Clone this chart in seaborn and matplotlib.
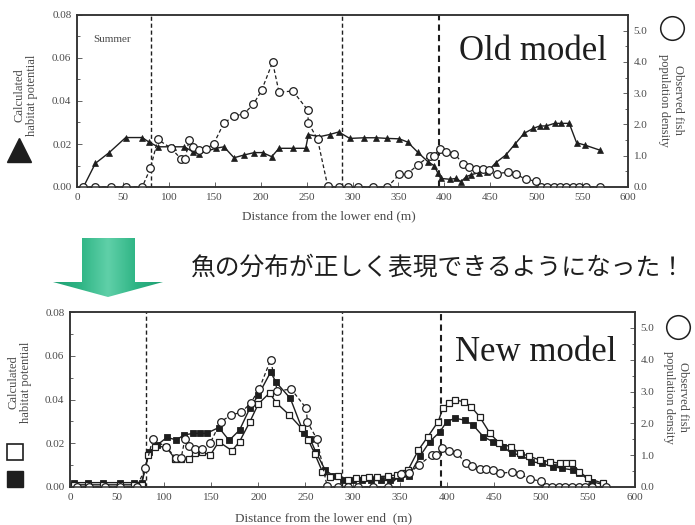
"""Habitat potential vs observed fish density: old model / new model comparison."""

import matplotlib

matplotlib.use("Agg")

import matplotlib.pyplot as plt
import numpy as np
import seaborn as sns
from matplotlib.patches import Polygon
from matplotlib.ticker import FormatStrFormatter, MultipleLocator

# --- data -------------------------------------------------------------------
# section boundaries (m) drawn as dashed verticals
SECTION_BOUNDS = [81, 289, 394]

# old model: calculated habitat potential (triangles)
OLD_X = [7, 20, 35, 53, 71, 78, 88, 104, 117, 126, 133, 151, 160, 171, 182,
         193, 202, 212, 220, 235, 249, 252, 264, 275, 285, 297, 313, 326, 338,
         351, 360, 371, 382, 389, 393, 396, 406, 413, 418, 424, 429, 438, 447,
         456, 467, 477, 487, 497, 504, 511, 520, 527, 536, 544, 553, 569]
OLD_Y = [0.000, 0.011, 0.016, 0.023, 0.023, 0.021, 0.0187, 0.0187, 0.0187,
         0.0164, 0.0155, 0.018, 0.0187, 0.0136, 0.0149, 0.016, 0.016, 0.0141,
         0.018, 0.018, 0.018, 0.0244, 0.0234, 0.0244, 0.0256, 0.0226, 0.0229,
         0.0229, 0.0226, 0.0224, 0.0209, 0.0162, 0.0118, 0.0099, 0.0064, 0.004,
         0.0036, 0.004, 0.0025, 0.0048, 0.0057, 0.0067, 0.0071, 0.0113, 0.0149,
         0.020, 0.025, 0.0273, 0.0284, 0.0284, 0.0296, 0.0296, 0.0296, 0.0206,
         0.0195, 0.0172]

# observed fish population density (circles, right axis)
OBS_X = [7, 20, 37, 53, 71, 80, 88, 102, 113, 118, 122, 126, 133, 140, 149,
         160, 171, 182, 192, 201, 213, 220, 235, 251, 252, 262, 273, 285, 295,
         306, 322, 338, 351, 360, 371, 384, 389, 395, 402, 411, 420, 427, 435,
         442, 449, 457, 469, 478, 489, 500, 505, 512, 519, 526, 533, 540, 547,
         554, 569]
OBS_D = [0, 0, 0, 0, 0, 0.6, 1.52, 1.25, 0.91, 0.91, 1.5, 1.28, 1.18, 1.2,
         1.39, 2.05, 2.26, 2.35, 2.64, 3.09, 3.99, 3.03, 3.07, 2.47, 2.05, 1.52,
         0.03, 0, 0, 0, 0, 0, 0.4, 0.43, 0.7, 1.0, 1.0, 1.23, 1.12, 1.07, 0.75,
         0.65, 0.56, 0.56, 0.54, 0.43, 0.47, 0.41, 0.24, 0.19, 0, 0, 0, 0, 0, 0,
         0, 0, 0]

# new model: open squares
NEW_A_X = [4, 19, 35, 53, 68, 76, 83, 90, 102, 112, 118, 126, 133, 140, 149,
           158, 172, 180, 191, 200, 212, 219, 233, 246, 253, 260, 268, 276, 285,
           295, 304, 312, 318, 326, 338, 347, 354, 359, 370, 380, 391, 396, 402,
           409, 418, 426, 435, 446, 456, 468, 478, 487, 499, 510, 520, 527, 533,
           541, 550, 566]
NEW_A_Y = [0.001, 0.001, 0.001, 0.001, 0.001, 0.001, 0.0146, 0.0184, 0.0184,
           0.0126, 0.0126, 0.0126, 0.0157, 0.016, 0.0146, 0.0207, 0.0166,
           0.0207, 0.0298, 0.038, 0.043, 0.0385, 0.0329, 0.0268, 0.0215, 0.0151,
           0.007, 0.0047, 0.0049, 0.003, 0.004, 0.004, 0.0045, 0.0047, 0.005,
           0.0055, 0.0063, 0.0078, 0.0169, 0.023, 0.0299, 0.036, 0.0383, 0.0398,
           0.039, 0.0367, 0.0321, 0.0245, 0.020, 0.0184, 0.0154, 0.0142, 0.0123,
           0.0116, 0.0108, 0.0108, 0.0108, 0.007, 0.004, 0.0017]

# new model: filled squares
NEW_B_X = [4, 19, 35, 53, 68, 76, 84, 92, 103, 113, 121, 131, 138, 145, 158,
           169, 180, 191, 200, 213, 219, 234, 248, 255, 261, 271, 280, 290, 300,
           310, 320, 330, 340, 350, 360, 372, 382, 393, 400, 409, 419, 428, 439,
           449, 460, 469, 479, 490, 501, 513, 523, 534, 541, 554, 566]
NEW_B_Y = [0.002, 0.002, 0.002, 0.002, 0.002, 0.002, 0.016, 0.019, 0.0227,
           0.0215, 0.0238, 0.0245, 0.0245, 0.0245, 0.0272, 0.0213, 0.026, 0.036,
           0.042, 0.0525, 0.0478, 0.0405, 0.0249, 0.022, 0.016, 0.0078, 0.005,
           0.003, 0.003, 0.003, 0.003, 0.003, 0.003, 0.004, 0.005, 0.0143,
           0.0207, 0.0253, 0.0299, 0.0314, 0.0306, 0.0283, 0.023, 0.0207, 0.0184,
           0.0154, 0.0146, 0.0116, 0.0108, 0.0093, 0.0085, 0.0078, 0.0063,
           0.0024, 0.0012]

X_LABEL = "Distance from the lower end (m)"
LEFT_LABEL = "Calculated\nhabitat potential"
RIGHT_LABEL = "Observed fish\npopulation density"
MESSAGE = "魚の分布が正しく表現できるようになった！"

# --- style --------------------------------------------------------------------
sns.set_theme(style="white")
plt.rcParams["font.family"] = ["Liberation Serif", "DejaVu Serif"]

INK = "#1e1e1e"
GREY = "#4a4a4a"
W, H = 695, 525


def style_axes(ax, twin):
    ax.set_xlim(0, 600)
    ax.set_ylim(0, 0.08)
    ax.xaxis.set_major_locator(MultipleLocator(50))
    ax.xaxis.set_minor_locator(MultipleLocator(25))
    ax.yaxis.set_major_locator(MultipleLocator(0.02))
    ax.yaxis.set_minor_locator(MultipleLocator(0.01))
    ax.yaxis.set_major_formatter(FormatStrFormatter("%.2f"))
    twin.set_ylim(0, 5.5)
    twin.yaxis.set_major_locator(MultipleLocator(1.0))
    twin.yaxis.set_minor_locator(MultipleLocator(0.5))
    twin.yaxis.set_major_formatter(FormatStrFormatter("%.1f"))
    for a in (ax, twin):
        a.set_xlabel("")
        a.set_ylabel("")
        a.tick_params(which="both", direction="in", color=GREY, width=0.6,
                      labelsize=8, labelcolor=GREY, pad=4)
        a.tick_params(which="major", length=3.5)
        a.tick_params(which="minor", length=2)
        for s in a.spines.values():
            s.set_color("#333333")
            s.set_linewidth(1.1)
    ax.tick_params(axis="y", left=True, right=False)
    ax.tick_params(axis="x", bottom=True)
    twin.tick_params(axis="y", right=True, left=False)
    for i, xb in enumerate(SECTION_BOUNDS):
        ax.axvline(xb, color=INK, lw=1.5 if i == 2 else 1.0, ls=(0, (3, 2)),
                   zorder=1)


def obs_line(ax):
    sns.lineplot(x=OBS_X, y=OBS_D, ax=ax, estimator=None, sort=False,
                 color=INK, lw=0.9, ls=(0, (3, 2)), marker="o", markersize=5.5,
                 markerfacecolor="white", markeredgecolor=INK,
                 markeredgewidth=0.9)


fig = plt.figure(figsize=(W / 100, H / 100), dpi=100)
ax_top = fig.add_axes([77 / W, 1 - 187 / H, 551 / W, 172 / H])
ax_bot = fig.add_axes([70 / W, 1 - 487 / H, 565 / W, 175 / H])

# --- old model ----------------------------------------------------------------
sns.lineplot(x=OLD_X, y=OLD_Y, ax=ax_top, estimator=None, sort=False,
             color=INK, lw=1.0, marker="^", markersize=5,
             markerfacecolor=INK, markeredgecolor=INK, markeredgewidth=0.5)
tw_top = ax_top.twinx()
obs_line(tw_top)
style_axes(ax_top, tw_top)
ax_top.text(0.03, 0.86, "Summer", transform=ax_top.transAxes, fontsize=8,
            color=GREY, va="center")
ax_top.text(0.962, 0.79, "Old model", transform=ax_top.transAxes,
            fontsize=25, color=INK, ha="right", va="center")

# --- new model ----------------------------------------------------------------
sns.lineplot(x=NEW_B_X, y=NEW_B_Y, ax=ax_bot, estimator=None, sort=False,
             color=INK, lw=1.0, marker="s", markersize=5,
             markerfacecolor=INK, markeredgecolor=INK, markeredgewidth=0.6)
sns.lineplot(x=NEW_A_X, y=NEW_A_Y, ax=ax_bot, estimator=None, sort=False,
             color=INK, lw=1.0, marker="s", markersize=5,
             markerfacecolor="white", markeredgecolor=INK,
             markeredgewidth=0.9)
tw_bot = ax_bot.twinx()
obs_line(tw_bot)
style_axes(ax_bot, tw_bot)
ax_bot.text(0.968, 0.77, "New model", transform=ax_bot.transAxes,
            fontsize=25, color=INK, ha="right", va="center")

# --- annotations in pixel space ---------------------------------------------
ov = fig.add_axes([0, 0, 1, 1])
ov.set_xlim(0, W)
ov.set_ylim(H, 0)
ov.axis("off")
ov.patch.set_alpha(0)

lab = dict(fontsize=9, color=GREY, ha="center", va="center")
ov.text(26, 95, LEFT_LABEL, rotation=90, linespacing=1.05, **lab)
ov.text(20, 382, LEFT_LABEL, rotation=90, linespacing=1.05, **lab)
ov.text(671, 100, RIGHT_LABEL, rotation=270, linespacing=1.3, **lab)
ov.text(676, 397, RIGHT_LABEL, rotation=270, linespacing=1.3, **lab)
ov.text(329, 216, X_LABEL, fontsize=9.5, color=GREY, ha="center", va="center")
ov.text(324, 518, X_LABEL.replace("end (", "end  ("), fontsize=9.5,
        color=GREY, ha="center", va="center")

ov.plot(19, 150, marker="^", ms=17, color=INK, clip_on=False)
ov.plot(15, 452, marker="s", ms=11, mfc="white", mec=INK, mew=1.2,
        clip_on=False)
ov.plot(15, 479, marker="s", ms=11, mfc=INK, mec=INK, clip_on=False)
ov.plot(672, 28, marker="o", ms=17, mfc="white", mec=INK, mew=1.1,
        clip_on=False)
ov.plot(678, 327, marker="o", ms=17, mfc="white", mec=INK, mew=1.1,
        clip_on=False)

# green block arrow with a soft horizontal gradient
arrow_pts = [(82, 238), (135, 238), (135, 282), (163, 282), (108, 297),
             (53, 282), (82, 282)]
arrow = Polygon(arrow_pts, closed=True, facecolor="none", edgecolor="none")
ov.add_patch(arrow)
grad = np.abs(np.linspace(-1, 1, 200))[None, :]
cmap = sns.blend_palette(["#5fd0a8", "#2fb585", "#1d9f72"], as_cmap=True)
img = ov.imshow(grad, extent=(53, 163, 297, 238), cmap=cmap,
                aspect="auto", zorder=2)
img.set_clip_path(arrow)
ov.set_xlim(0, W)
ov.set_ylim(H, 0)

ov.text(190, 268, MESSAGE, fontsize=17.8, color=INK, va="center",
        ha="left", family=["Noto Sans CJK JP", "DejaVu Sans"])

fig.savefig("out.png", dpi=100)
